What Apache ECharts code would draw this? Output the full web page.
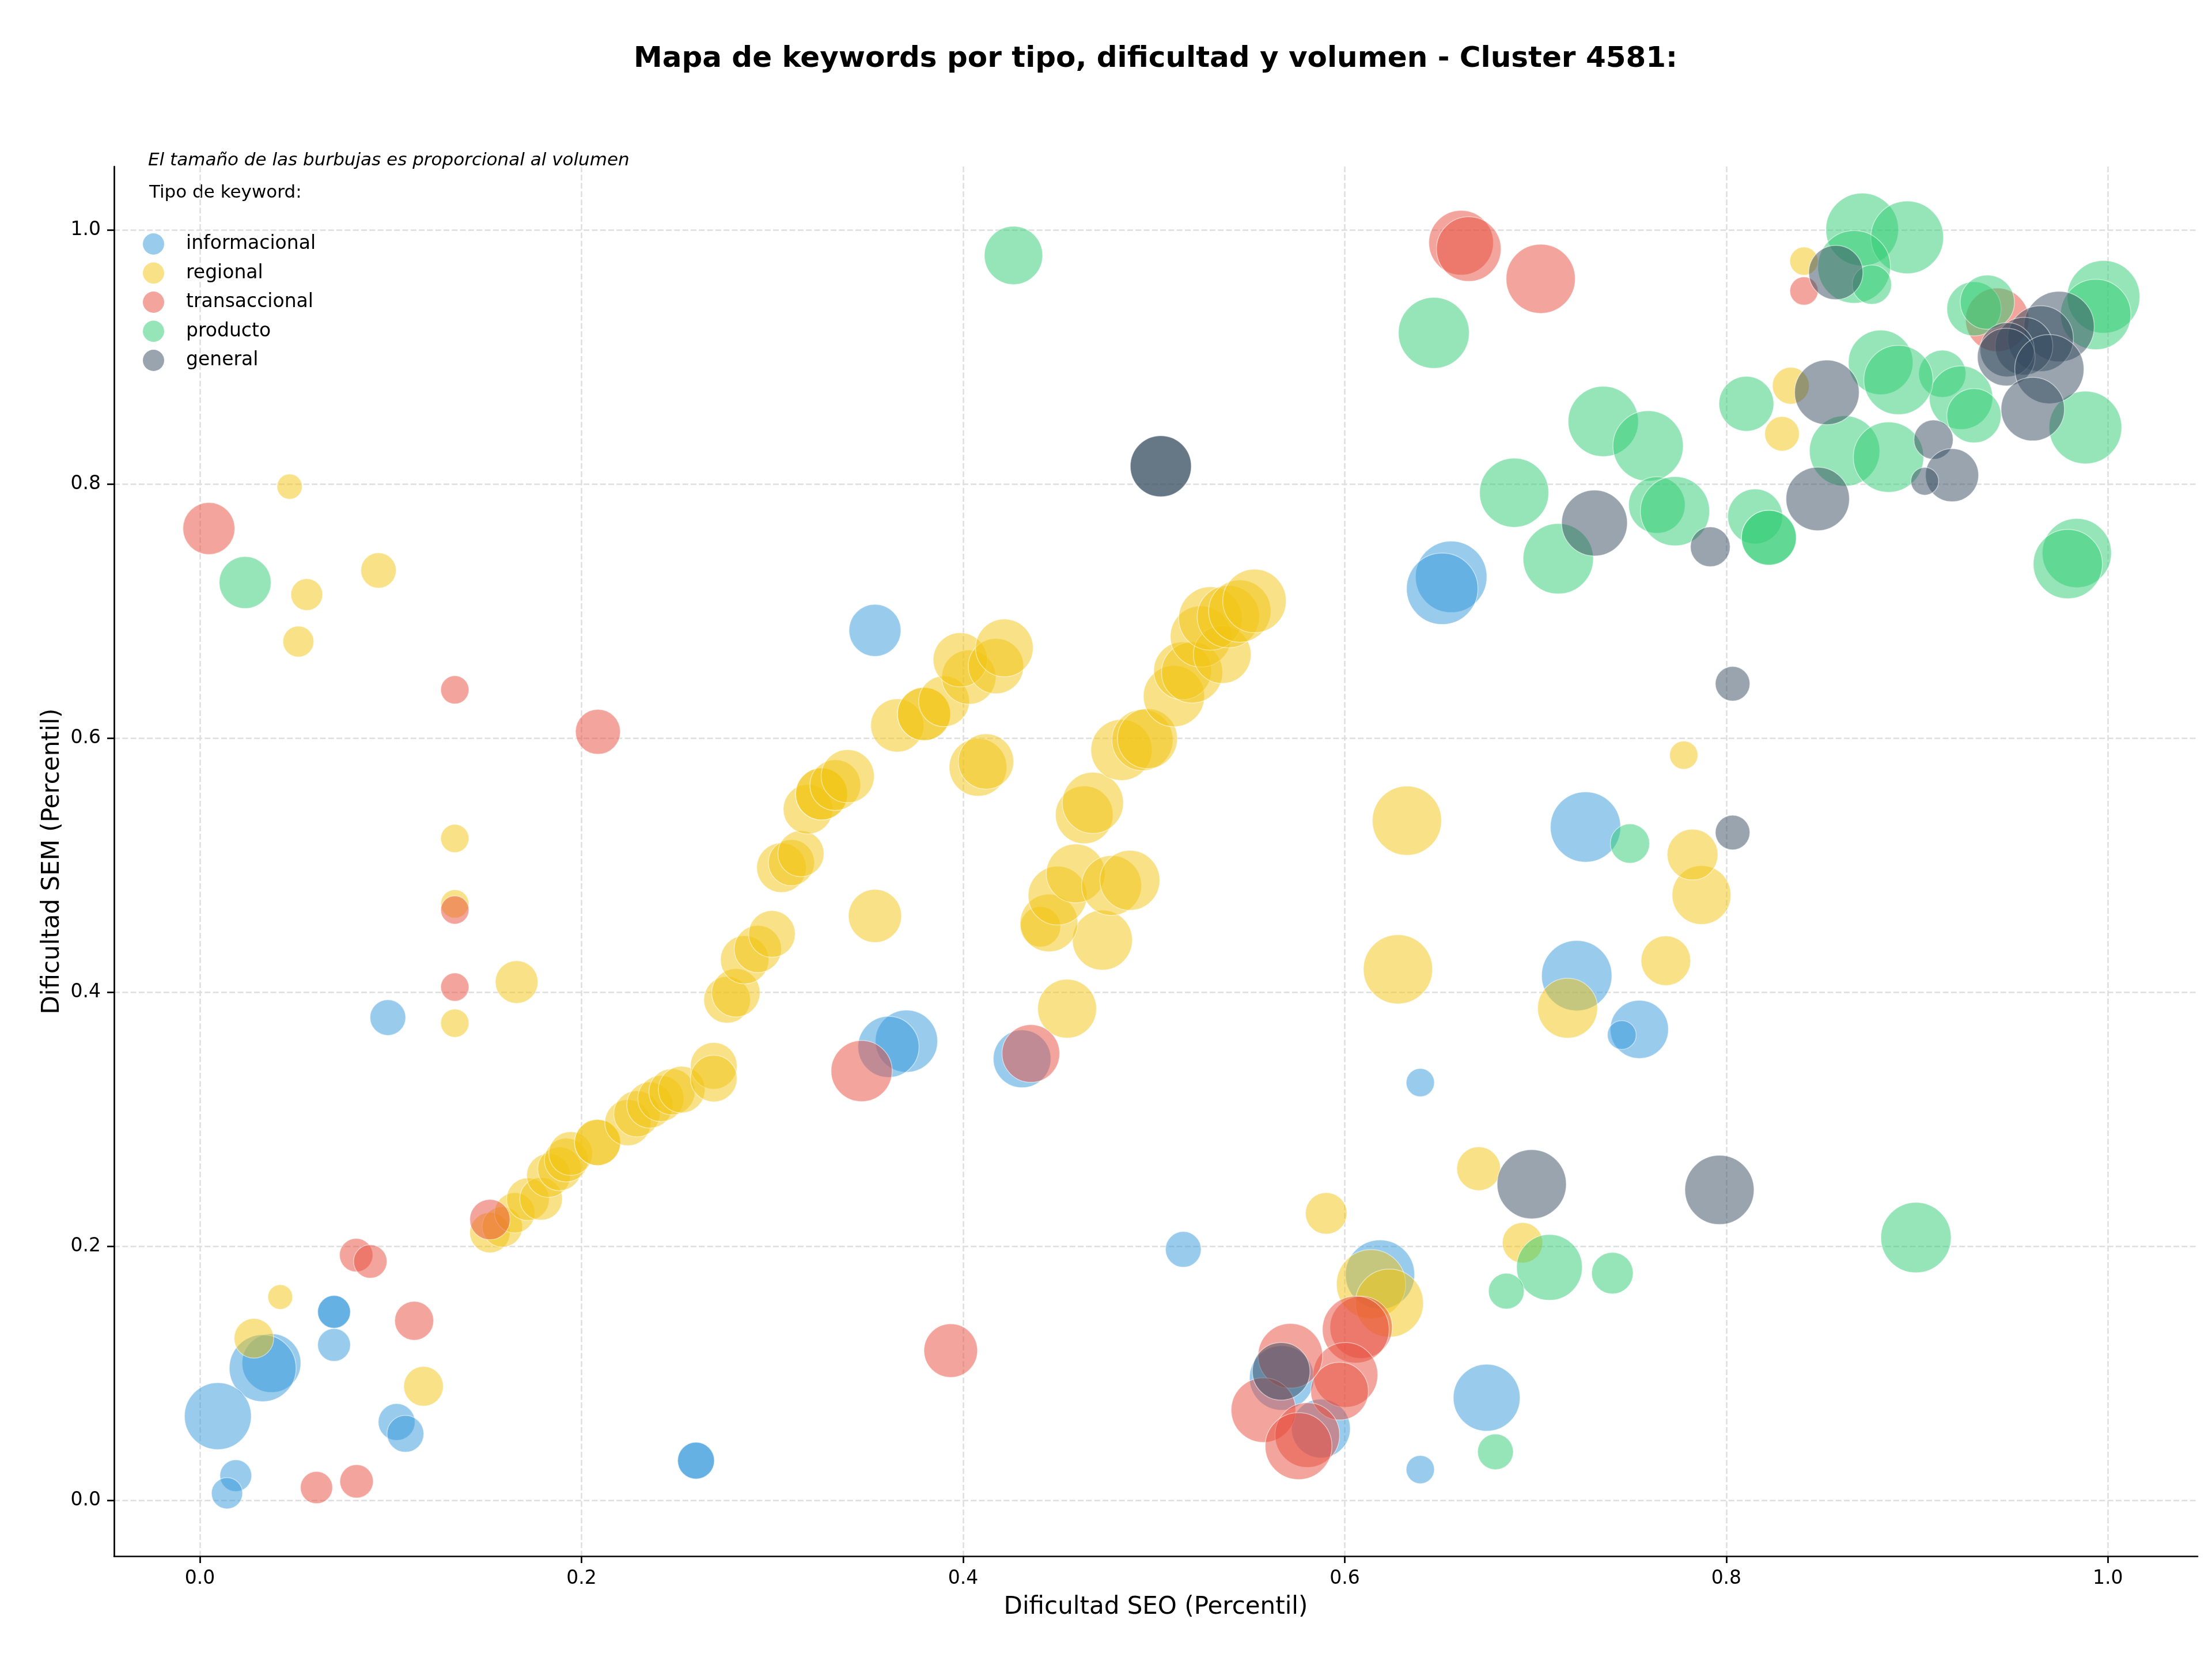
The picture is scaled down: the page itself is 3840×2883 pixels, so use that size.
<!DOCTYPE html>
<html>
<head>
<meta charset="utf-8">
<title>Mapa de keywords</title>
<script src="https://cdn.jsdelivr.net/npm/echarts@6.0.0/dist/echarts.min.js"></script>
<style>
  html, body { margin: 0; padding: 0; background: #fff; }
  #chart { width: 3840px; height: 2883px; }
</style>
</head>
<body>
<div id="chart"></div>
<script>
// [dificultad SEO, dificultad SEM, volumen]
const informacional = [
  [0.0985, 0.380, 960], [0.0703, 0.1483, 810], [0.0703, 0.1483, 810], [0.0703, 0.1223, 810],
  [0.0375, 0.108, 2600], [0.0329, 0.104, 3360], [0.0094, 0.0662, 3360], [0.1031, 0.0616, 1020],
  [0.1077, 0.0523, 1020], [0.0188, 0.0194, 760], [0.0142, 0.0055, 730], [0.260, 0.0312, 1020],
  [0.260, 0.0312, 1020], [0.3538, 0.6848, 2030], [0.6558, 0.727, 3840], [0.6511, 0.7176, 3840],
  [0.3703, 0.3614, 2920], [0.3609, 0.3569, 2810], [0.4309, 0.3475, 2500], [0.6396, 0.3288, 600],
  [0.5154, 0.1975, 960], [0.6185, 0.1777, 3600], [0.567, 0.0963, 3140], [0.5875, 0.0565, 2600],
  [0.6744, 0.0807, 3360], [0.6396, 0.0242, 600], [0.7216, 0.413, 3720], [0.7544, 0.3707, 2550],
  [0.7452, 0.3663, 625], [0.7262, 0.530, 3720]
];

const regional = [
  [0.047, 0.798, 480], [0.056, 0.713, 760], [0.0936, 0.732, 940], [0.0516, 0.676, 720],
  [0.1336, 0.521, 600], [0.1336, 0.4695, 600], [0.1336, 0.3756, 600], [0.166, 0.408, 1370],
  [0.0421, 0.160, 460], [0.0283, 0.1275, 1180], [0.1172, 0.0897, 1180],
  [0.152, 0.2107, 1225], [0.1585, 0.2152, 1225], [0.165, 0.2263, 1225], [0.1719, 0.237, 1370],
  [0.1788, 0.2373, 1370], [0.1827, 0.2557, 1440], [0.1885, 0.2609, 1440], [0.192, 0.2678, 1440],
  [0.1943, 0.273, 1440], [0.2084, 0.2817, 1600], [0.2084, 0.2817, 1600], [0.2243, 0.2973, 1600],
  [0.229, 0.3042, 1600], [0.2358, 0.3111, 1600], [0.2416, 0.3163, 1600], [0.2474, 0.3216, 1600],
  [0.2525, 0.3233, 1640], [0.2693, 0.342, 1640], [0.2693, 0.332, 1640], [0.2763, 0.394, 1640],
  [0.2809, 0.3995, 1760], [0.2855, 0.4255, 1760], [0.2924, 0.434, 1680], [0.2998, 0.4458, 1640],
  [0.3048, 0.498, 1850], [0.31, 0.502, 1600], [0.315, 0.509, 1600], [0.3187, 0.544, 1850],
  [0.3258, 0.556, 2030], [0.3258, 0.556, 2030], [0.333, 0.563, 1940], [0.3395, 0.570, 2120],
  [0.3655, 0.610, 2120], [0.3795, 0.619, 2120], [0.3795, 0.619, 2120], [0.39, 0.629, 1940],
  [0.403, 0.648, 2210], [0.3985, 0.6616, 2210], [0.4172, 0.6567, 2300], [0.4216, 0.671, 2500],
  [0.4078, 0.577, 2500], [0.412, 0.5816, 2300], [0.3538, 0.460, 2120],
  [0.4545, 0.387, 2600], [0.473, 0.441, 2700], [0.4405, 0.4515, 1225], [0.445, 0.4545, 2500],
  [0.4495, 0.476, 2600], [0.459, 0.4935, 2600], [0.4778, 0.484, 2700], [0.4874, 0.488, 2700],
  [0.4635, 0.5396, 2500], [0.468, 0.549, 2810], [0.483, 0.5907, 2810], [0.494, 0.5985, 2810],
  [0.4966, 0.5996, 2700], [0.5105, 0.633, 2810], [0.515, 0.653, 2500], [0.520, 0.6517, 2810],
  [0.5246, 0.680, 2810], [0.5358, 0.6658, 2500], [0.5296, 0.6942, 3025], [0.539, 0.6956, 2920],
  [0.545, 0.700, 2920], [0.5527, 0.708, 3025],
  [0.6326, 0.535, 3600], [0.6279, 0.418, 3600], [0.6702, 0.261, 1440], [0.5903, 0.2259, 1300],
  [0.6138, 0.1701, 3600], [0.6234, 0.1552, 3480], [0.6932, 0.2027, 1225], [0.7168, 0.3874, 2700],
  [0.7683, 0.4248, 1850], [0.787, 0.4765, 2600], [0.7823, 0.5083, 1940], [0.7777, 0.5866, 600],
  [0.8407, 0.9755, 600], [0.8338, 0.8774, 1020], [0.8292, 0.8396, 900]
];

const transaccional = [
  [0.0047, 0.765, 2030], [0.1336, 0.638, 600], [0.2086, 0.605, 1520], [0.1336, 0.4647, 600],
  [0.1336, 0.404, 600], [0.152, 0.221, 1225], [0.0819, 0.193, 840], [0.0893, 0.188, 840],
  [0.1123, 0.1413, 1140], [0.0611, 0.010, 780], [0.0821, 0.0149, 840], [0.3468, 0.3379, 2810],
  [0.4355, 0.3517, 2500], [0.3935, 0.1178, 2160], [0.661, 0.990, 3140], [0.665, 0.985, 3140],
  [0.7027, 0.9616, 3600], [0.8407, 0.952, 600], [0.942, 0.9293, 3025],
  [0.6086, 0.1361, 2920], [0.6058, 0.1344, 3360], [0.6004, 0.0987, 3140], [0.5973, 0.0859, 2500],
  [0.5715, 0.1137, 3140], [0.5574, 0.071, 3140], [0.5804, 0.0513, 3140], [0.5758, 0.0426, 3360]
];

const producto = [
  [0.0237, 0.7225, 2030], [0.4264, 0.980, 2560], [0.6467, 0.919, 3780], [0.8712, 1.0004, 3970],
  [0.8948, 0.9942, 3970], [0.867, 0.971, 3970], [0.8763, 0.957, 1160], [0.9977, 0.9474, 3970],
  [0.9936, 0.9335, 3720], [0.9298, 0.938, 2210], [0.9368, 0.9432, 2210], [0.9882, 0.8445, 3970],
  [0.9132, 0.8868, 1680], [0.923, 0.868, 3025], [0.9298, 0.8538, 2210], [0.8809, 0.8958, 3140],
  [0.8902, 0.8819, 3600], [0.862, 0.826, 3720], [0.885, 0.8212, 3720], [0.8105, 0.8632, 2260],
  [0.7355, 0.8493, 3720], [0.759, 0.830, 3720], [0.6888, 0.7932, 3600], [0.7119, 0.7412, 3720],
  [0.7636, 0.7835, 2400], [0.7731, 0.7786, 3600], [0.8151, 0.7745, 2260], [0.8223, 0.7578, 2260],
  [0.8223, 0.7578, 2260], [0.9837, 0.7457, 3600], [0.979, 0.737, 3600], [0.7495, 0.517, 1160],
  [0.8994, 0.2068, 3720], [0.7073, 0.1833, 3250], [0.7403, 0.1788, 1300], [0.6847, 0.1646, 960],
  [0.679, 0.0381, 960]
];

const general = [
  [0.5036, 0.814, 2810], [0.5036, 0.814, 2810], [0.8574, 0.9665, 2210], [0.9744, 0.924, 3720],
  [0.9647, 0.9145, 3250], [0.956, 0.9086, 2500], [0.9472, 0.9058, 2210], [0.9467, 0.900, 2500],
  [0.9693, 0.8905, 3600], [0.9606, 0.859, 3025], [0.8527, 0.8722, 3140], [0.9086, 0.835, 1160],
  [0.9183, 0.807, 2120], [0.904, 0.8022, 580], [0.8479, 0.7883, 3025], [0.7309, 0.7693, 3250],
  [0.7916, 0.7506, 1190], [0.8033, 0.6428, 900], [0.8033, 0.5257, 900], [0.698, 0.2488, 3600],
  [0.7964, 0.2443, 3600], [0.5667, 0.1015, 2500]
];

const tipos = ['informacional', 'regional', 'transaccional', 'producto', 'general'];
const colores = ['#3498DB', '#F1C40F', '#E74C3C', '#2ECC71', '#34495E'];
const datos = [informacional, regional, transaccional, producto, general];
const ticks = [0, 0.2, 0.4, 0.6, 0.8, 1.0];

const chart = echarts.init(document.getElementById('chart'));

const axisBase = {
  type: 'value',
  nameLocation: 'middle',
  nameTextStyle: { fontSize: 42, color: '#000', fontFamily: 'DejaVu Sans' },
  axisLine: { show: true, onZero: false, lineStyle: { color: '#000', width: 2.7 } },
  axisTick: { show: true, length: 12, lineStyle: { color: '#000', width: 2.7 }, customValues: ticks },
  axisLabel: {
    customValues: ticks,
    formatter: v => v.toFixed(1),
    fontSize: 33,
    color: '#000',
    fontFamily: 'DejaVu Sans',
    margin: 23
  },
  splitLine: { show: true, lineStyle: { color: '#dedede', width: 2.5, type: [10, 4.3] } }
};

const option = {
  animation: false,
  backgroundColor: '#fff',
  textStyle: { fontFamily: 'DejaVu Sans' },
  grid: { left: 198, right: 25, top: 289, bottom: 182 },
  xAxis: Object.assign({}, axisBase, {
    min: -0.045, max: 1.047,
    name: 'Dificultad SEO (Percentil)',
    nameGap: 68
  }),
  yAxis: Object.assign({}, axisBase, {
    min: -0.044, max: 1.05,
    name: 'Dificultad SEM (Percentil)',
    nameGap: 84
  }),
  legend: {
    data: tipos,
    orient: 'vertical',
    left: 243,
    top: 400,
    icon: 'circle',
    itemWidth: 37,
    itemHeight: 37,
    itemGap: 13.5,
    selectedMode: false,
    itemStyle: { borderWidth: 0 },
    textStyle: { fontSize: 33, color: '#000', fontFamily: 'DejaVu Sans', padding: [0, 0, 0, 33] }
  },
  graphic: [
    {
      type: 'text', x: 2006, y: 103,
      style: {
        text: 'Mapa de keywords por tipo, dificultad y volumen - Cluster 4581:',
        font: 'bold 50px "DejaVu Sans"', fill: '#000',
        textAlign: 'center', textVerticalAlign: 'middle'
      }
    },
    {
      type: 'text', x: 257, y: 279,
      style: {
        text: 'El tamaño de las burbujas es proporcional al volumen',
        font: 'italic 31px "DejaVu Sans"', fill: '#000',
        textAlign: 'left', textVerticalAlign: 'middle'
      }
    },
    {
      type: 'text', x: 259, y: 335,
      style: {
        text: 'Tipo de keyword:',
        font: '31px "DejaVu Sans"', fill: '#000',
        textAlign: 'left', textVerticalAlign: 'middle'
      }
    }
  ],
  series: tipos.map((t, i) => ({
    name: t,
    type: 'scatter',
    data: datos[i],
    symbolSize: d => 2 * Math.sqrt(d[2]),
    itemStyle: { color: colores[i], opacity: 0.5, borderColor: '#ffffff', borderWidth: 1.5 },
    emphasis: { disabled: true }
  }))
};

chart.setOption(option);
</script>
</body>
</html>
